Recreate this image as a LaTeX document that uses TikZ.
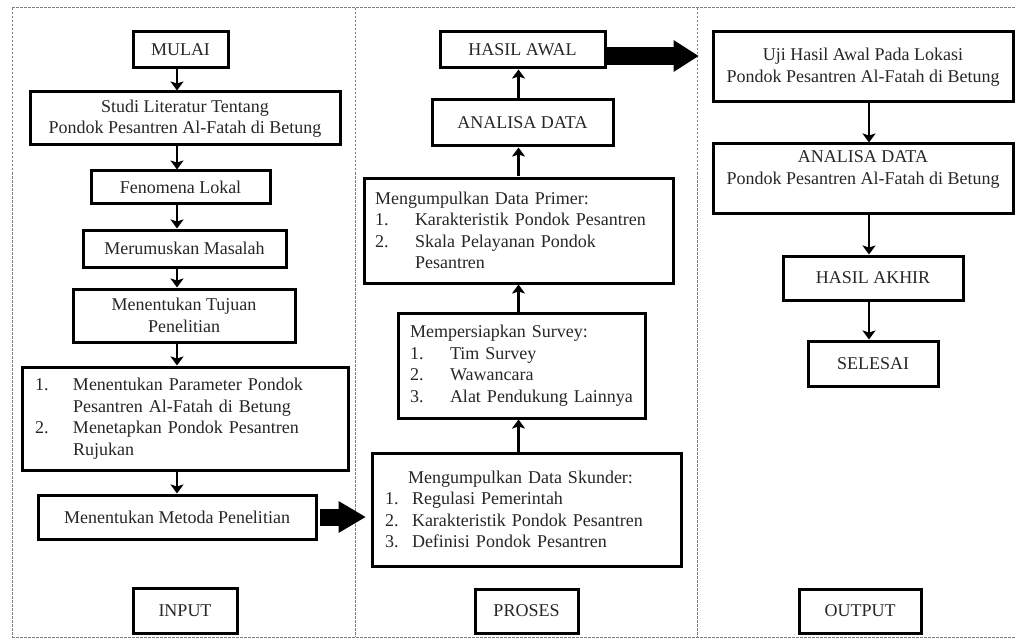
\documentclass[tikz,border=0pt]{standalone}
\usepackage{fontspec}
\setmainfont{Liberation Serif}
\usetikzlibrary{arrows.meta,calc}
\newcommand{\fs}{\fontsize{18}{21.5}\selectfont}
\newcommand{\itm}[3]{\makebox[#1][l]{#2}\mbox{#3}}
\begin{document}
\begin{tikzpicture}[x=1pt,y=-1pt,
  box/.style={draw, line width=3pt, inner sep=0pt, font=\fs, align=center, text=black!85},
  lbox/.style={draw, line width=3pt, inner ysep=0pt, font=\fs, align=left, text=black!85},
  arr/.style={line width=2.5pt, -{Stealth[length=9pt 0 0, width=13pt 0 0, inset=2pt 0 0]}},
  bigarr/.style 2 args={line width=#1pt, -{Triangle[length=#2pt 0 0, width=32pt 0 0, line width=0pt 0 0]}},
  frame/.style={draw=black!50, line width=1pt, dash pattern=on 2.5pt off 1.5pt}]
\useasboundingbox (0,0) rectangle (1016,639);
% frame
\draw[frame] (12,8) -- (1016,8);
\draw[frame] (12,637) -- (1016,637);
\draw[frame] (12,8) -- (12,637);
\draw[frame] (355,8) -- (355,637);
\draw[frame] (697,8) -- (697,637);
% INPUT column
\node[box, minimum width=95pt, minimum height=36pt] (mulai) at (180.5,50) {MULAI};
\node[box, minimum width=310pt, minimum height=53pt] (studi) at (185,118.5) {Studi Literatur Tentang\\Pondok Pesantren Al-Fatah di Betung};
\node[box, minimum width=179pt, minimum height=32pt] (fenomena) at (180.5,187) {Fenomena Lokal};
\node[box, minimum width=203pt, minimum height=37pt] (merumuskan) at (184.5,248.5) {Merumuskan Masalah};
\node[box, minimum width=222pt, minimum height=53pt] (tujuan) at (184,315.5) {Menentukan Tujuan\\Penelitian};
\node[lbox, inner xsep=13pt, text width=300pt, minimum height=103pt] (parameter) at (185,418.5)
  {\itm{38pt}{1.}{Menentukan Parameter Pondok}\\
   \hspace*{38pt}\mbox{Pesantren Al-Fatah di Betung}\\
   \itm{38pt}{2.}{Menetapkan Pondok Pesantren}\\
   \hspace*{38pt}Rujukan};
\node[box, minimum width=278pt, minimum height=44pt] (metoda) at (177,517) {Menentukan Metoda Penelitian};
\node[box, minimum width=104pt, minimum height=45pt] (input) at (185,610.5) {INPUT};
% PROSES column
\node[box, minimum width=165pt, minimum height=36pt] (hasilawal) at (522.5,50) {HASIL AWAL};
\node[box, minimum width=181pt, minimum height=46pt] (analisa1) at (522.5,123) {ANALISA DATA};
\node[lbox, inner xsep=11pt, text width=287pt, minimum height=105pt] (primer) at (518.5,230.5)
  {\mbox{Mengumpulkan Data Primer:}\\
   \itm{40pt}{1.}{Karakteristik Pondok Pesantren}\\
   \itm{40pt}{2.}{Skala Pelayanan Pondok}\\
   \hspace*{40pt}Pesantren};
\node[lbox, inner xsep=12pt, text width=223pt, minimum height=105pt] (survey) at (521.5,365.5)
  {\mbox{Mempersiapkan Survey:}\\
   \itm{40pt}{1.}{Tim Survey}\\
   \itm{40pt}{2.}{Wawancara}\\
   \itm{40pt}{3.}{Alat Pendukung Lainnya}};
\node[lbox, inner xsep=13pt, text width=283pt, minimum height=113pt] (skunder) at (526.5,509.5)
  {\makebox[271pt][c]{Mengumpulkan Data Skunder:}\\
   \itm{27pt}{1.}{Regulasi Pemerintah}\\
   \itm{27pt}{2.}{Karakteristik Pondok Pesantren}\\
   \itm{27pt}{3.}{Definisi Pondok Pesantren}};
\node[box, minimum width=103pt, minimum height=44pt] (proses) at (526.5,611) {PROSES};
% OUTPUT column
\node[box, minimum width=300pt, minimum height=70pt] (uji) at (863,67) {Uji Hasil Awal Pada Lokasi\\Pondok Pesantren Al-Fatah di Betung};
\node[box, minimum width=300pt, minimum height=69pt] (analisa2) at (863,178.5) {ANALISA DATA\\Pondok Pesantren Al-Fatah di Betung\\\mbox{}};
\node[box, minimum width=180pt, minimum height=44pt] (hasilakhir) at (873,278) {HASIL AKHIR};
\node[box, minimum width=130pt, minimum height=45pt] (selesai) at (873,363.5) {SELESAI};
\node[box, minimum width=122pt, minimum height=44pt] (output) at (860,611) {OUTPUT};
% connectors INPUT
\draw[arr] (mulai.south -| metoda.center) -- (studi.north -| metoda.center);
\draw[arr] (studi.south -| metoda.center) -- (fenomena.north -| metoda.center);
\draw[arr] (fenomena.south -| metoda.center) -- (merumuskan.north -| metoda.center);
\draw[arr] (merumuskan.south -| metoda.center) -- (tujuan.north -| metoda.center);
\draw[arr] (tujuan.south -| metoda.center) -- (parameter.north -| metoda.center);
\draw[arr] (parameter.south -| metoda.center) -- (metoda.north);
% connectors PROSES
\draw[arr] (skunder.north -| primer.center) -- (survey.south -| primer.center);
\draw[arr] (survey.north -| primer.center) -- (primer.south);
\draw[arr] (primer.north) -- (analisa1.south -| primer.center);
\draw[arr] (analisa1.north -| primer.center) -- (hasilawal.south -| primer.center);
% connectors OUTPUT
\coordinate (ocol) at (869,0);
\draw[arr] (uji.south -| ocol) -- (analisa2.north -| ocol);
\draw[arr] (analisa2.south -| ocol) -- (hasilakhir.north -| ocol);
\draw[arr] (hasilakhir.south -| ocol) -- (selesai.north -| ocol);
% big arrows
\draw[bigarr={17}{27}, shorten <=2pt, shorten >=5pt] (metoda.east) -- (metoda.east -| skunder.west);
\coordinate (ha) at ([yshift=-6pt]hasilawal.east);
\draw[bigarr={18}{25}, shorten >=13pt] (ha) -- (ha -| uji.west);
\end{tikzpicture}
\end{document}
